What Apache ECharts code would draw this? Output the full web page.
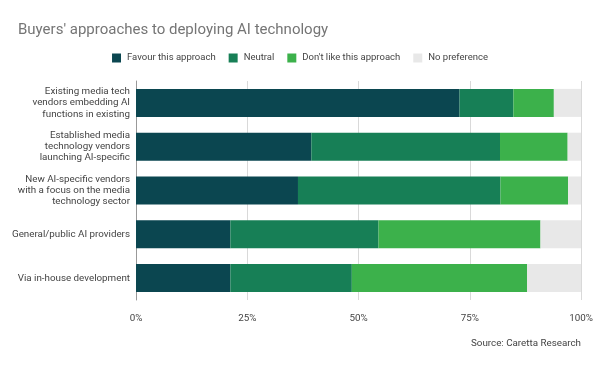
<!DOCTYPE html>
<html>
<head>
<meta charset="utf-8">
<script src="https://cdn.jsdelivr.net/npm/echarts@6/dist/echarts.min.js"></script>
<style>html,body{margin:0;padding:0;background:#fff}#c{width:600px;height:368px}</style>
</head>
<body>
<div id="c"></div>
<script>
var categories = [
  "Existing media tech\nvendors embedding AI\nfunctions in existing",
  "Established media\ntechnology vendors\nlaunching AI-specific",
  "New AI-specific vendors\nwith a focus on the media\ntechnology sector",
  "General/public AI providers",
  "Via in-house development"
];
var seriesNames = ["Favour this approach", "Neutral", "Don't like this approach", "No preference"];
var favour = [72.7, 39.4, 36.4, 21.2, 21.2];
var neutral = [12.1, 42.4, 45.5, 33.3, 27.3];
var dislike = [9.1, 15.2, 15.2, 36.4, 39.4];
var noPref = [6.1, 3.0, 3.0, 9.1, 12.1];
var xTicks = [0, 25, 50, 75, 100];
var colors = ["#0b4650", "#177f56", "#3cb14b", "#e8e8e8"];

var chart = echarts.init(document.getElementById('c'));
var data = [favour, neutral, dislike, noPref];
chart.setOption({
  animation: false,
  textStyle: { fontFamily: 'Roboto' },
  title: {
    text: "Buyers' approaches to deploying AI technology",
    left: 13, top: 18,
    textStyle: { fontFamily: 'Roboto', fontSize: 15, fontWeight: 'normal', color: '#757575' }
  },
  legend: {
    left: 'center', top: 48,
    itemWidth: 9, itemHeight: 9, itemGap: 13,
    icon: 'rect',
    textStyle: { fontFamily: 'Roboto', fontSize: 9.5, color: '#444', padding: [0, 0, 0, 1] },
    data: seriesNames
  },
  graphic: [{
    type: 'text', right: 19, top: 339,
    style: { text: 'Source: Caretta Research', fontFamily: 'Roboto', fontSize: 9.8, fill: '#444' }
  }],
  grid: { left: 136, right: 19, top: 81, bottom: 68, containLabel: false, outerBoundsMode: 'none' },
  xAxis: {
    type: 'value', min: 0, max: 100, interval: 25,
    axisLabel: { formatter: function (v) { return xTicks.indexOf(v) >= 0 ? v + '%' : ''; }, color: '#444', fontFamily: 'Roboto', fontSize: 9.8, margin: 14 },
    splitLine: { lineStyle: { color: '#d9d9d9' } },
    axisLine: { show: false }, axisTick: { show: false }
  },
  yAxis: {
    type: 'category', inverse: true, data: categories,
    axisLine: { show: true, lineStyle: { color: '#999' } },
    axisTick: { show: false },
    axisLabel: { color: '#444', fontFamily: 'Roboto', fontSize: 9.8, lineHeight: 11.3, margin: 6, align: 'right' }
  },
  series: seriesNames.map(function (n, i) {
    return {
      name: n, type: 'bar', stack: 'all', data: data[i],
      barCategoryGap: '36%',
      itemStyle: { color: colors[i] }
    };
  })
});
</script>
</body>
</html>
